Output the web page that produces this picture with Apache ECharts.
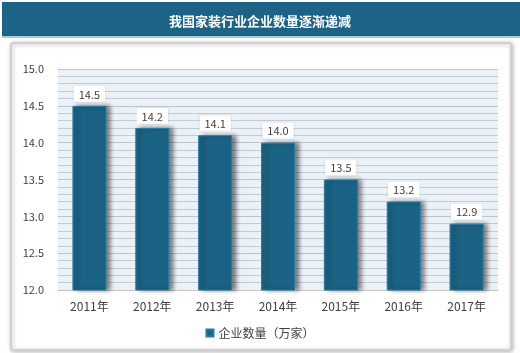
<!DOCTYPE html>
<html lang="zh">

<head>
  <meta charset="utf-8" />
</head>

<body style="margin: 0; background: #fff">
  <div id="container" style="width: 520px; height: 353px;"></div>

  <script type="text/javascript" src="https://cdn.jsdelivr.net/npm/echarts@6/dist/echarts.min.js"></script>

  <script type="text/javascript">
    // 数据
    var years = ['2011年', '2012年', '2013年', '2014年', '2015年', '2016年', '2017年'];
    var counts = [14.5, 14.2, 14.1, 14.0, 13.5, 13.2, 12.9];
    var seriesName = '企业数量（万家）';
    var titleText = '我国家装行业企业数量逐渐递减';

    var myChart = echarts.init(document.getElementById('container'), null, { renderer: 'canvas' });
    var font = "'Noto Sans CJK SC', 'DejaVu Sans', sans-serif";

    var option = {
      backgroundColor: '#fff',
      animation: false,
      // 标题栏和外框
      graphic: [
        {
          type: 'rect', z: -10,
          shape: { x: 2, y: 2, width: 518, height: 34 },
          style: { fill: '#1c6385' }
        },
        {
          type: 'rect', z: -10,
          shape: { x: 2, y: 36, width: 518, height: 2 },
          style: { fill: '#a9cbdc' }
        },
        {
          type: 'rect', z: -10,
          shape: { x: 11, y: 43, width: 500, height: 307, r: 2 },
          style: {
            fill: '#fff', stroke: '#d0d0d0', lineWidth: 2,
            shadowColor: 'rgba(0,0,0,0.25)', shadowBlur: 4, shadowOffsetX: 1, shadowOffsetY: 1
          }
        }
      ],
      title: {
        text: titleText,
        left: 'center',
        top: 10,
        textStyle: { color: '#fff', fontSize: 13, fontWeight: 'bold', fontFamily: font }
      },
      legend: {
        bottom: 9,
        left: 'center',
        itemWidth: 7,
        itemHeight: 7,
        icon: 'rect',
        itemGap: 4,
        textStyle: { color: '#404040', fontSize: 12, fontFamily: font }
      },
      grid: {
        left: 58, right: 22, top: 69, bottom: 63,
        show: true, backgroundColor: '#eaf1f7', borderWidth: 0
      },
      xAxis: {
        type: 'category',
        data: years,
        axisLine: { show: true, lineStyle: { color: '#bfc6cc' } },
        axisTick: { show: false },
        axisLabel: { color: '#404040', fontSize: 12, margin: 10, fontFamily: font }
      },
      yAxis: {
        type: 'value',
        min: 12, max: 15, interval: 0.5,
        axisLine: { show: false },
        axisTick: { show: false },
        axisLabel: {
          color: '#404040', fontSize: 11, margin: 14, fontFamily: font,
          formatter: function (v) { return v.toFixed(1); }
        },
        splitLine: { lineStyle: { color: '#bcc5ce', width: 1 } },
        minorTick: { show: false, splitNumber: 5 },
        minorSplitLine: { show: true, lineStyle: { color: '#c3ccd5', width: 1 } }
      },
      series: [
        {
          name: seriesName,
          type: 'bar',
          data: counts,
          barWidth: 34,
          itemStyle: {
            color: '#1b6385',
            borderColor: '#2a7aa0', borderWidth: 1,
            shadowColor: 'rgba(0,0,0,0.45)', shadowBlur: 4, shadowOffsetX: 4, shadowOffsetY: 0
          },
          label: {
            show: true,
            position: 'top',
            distance: 4,
            color: '#404040',
            fontSize: 11,
            fontFamily: font,
            backgroundColor: '#fff',
            padding: [3, 5, 2, 5],
            shadowColor: 'rgba(0,0,0,0.15)', shadowBlur: 2,
            formatter: function (p) { return p.value.toFixed(1); }
          }
        }
      ]
    };

    myChart.setOption(option);
    window.addEventListener('resize', myChart.resize);
  </script>
</body>

</html>
